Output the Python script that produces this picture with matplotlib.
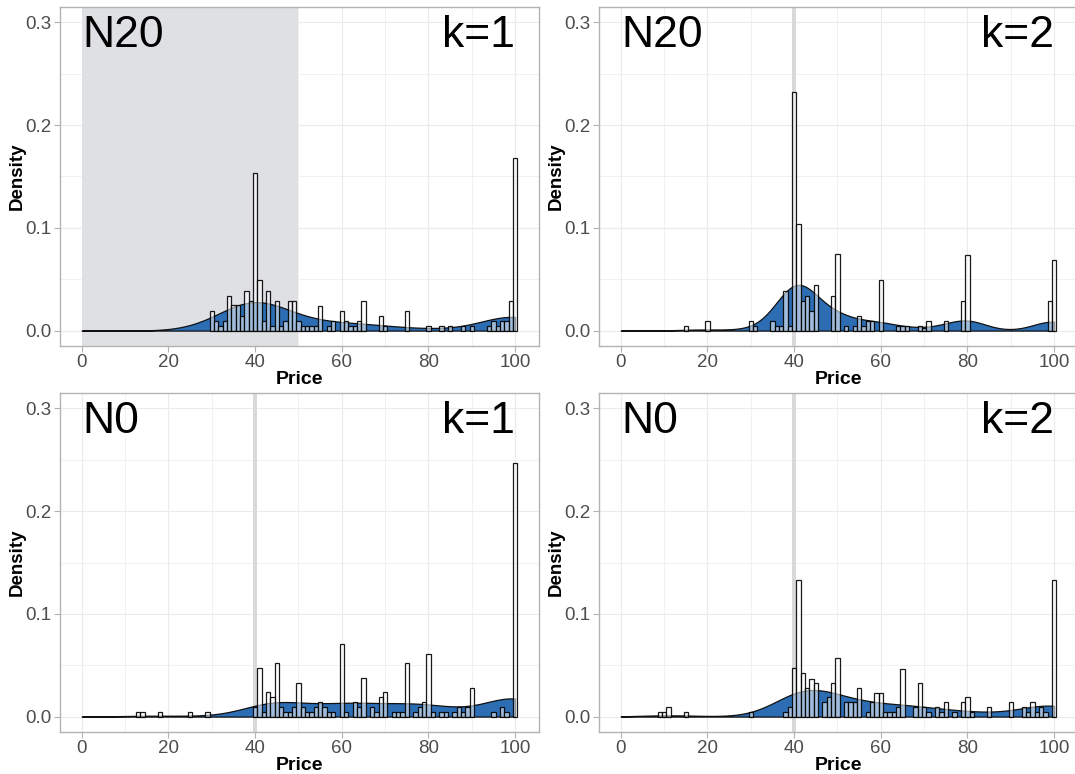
import numpy as np
import matplotlib
matplotlib.use("Agg")
import matplotlib.pyplot as plt

plt.rcParams['font.family'] = ['Liberation Sans', 'DejaVu Sans']

# Paneles: etiqueta de tratamiento y k
panel_names = ['N20', 'N20', 'N0', 'N0']
panel_k = ['k=1', 'k=2', 'k=1', 'k=2']

# Histograma (precio entero -> densidad)
p1_price = [30, 31, 32, 33, 34, 35, 36, 37, 38, 39, 40, 41, 42, 43, 44, 45, 46, 47, 48, 49,
            50, 51, 52, 53, 54, 55, 57, 58, 60, 61, 62, 63, 64, 65, 69, 70, 75, 80, 83, 85,
            88, 90, 94, 95, 96, 97, 98, 99, 100]
p1_dens = [.019, .009, .004, .009, .034, .025, .025, .014, .039, .029, .153, .049, .009, .039,
           .004, .029, .004, .009, .029, .029, .009, .004, .004, .004, .004, .024, .004, .009,
           .019, .009, .004, .004, .009, .029, .014, .004, .019, .004, .004, .004, .004, .004,
           .004, .009, .004, .009, .009, .029, .168]

p2_price = [15, 20, 30, 31, 35, 36, 37, 38, 39, 40, 41, 42, 43, 44, 45, 49, 50, 52, 54, 55,
            56, 57, 58, 60, 64, 65, 66, 69, 70, 71, 75, 79, 80, 99, 100]
p2_dens = [.004, .009, .009, .004, .009, .004, .004, .039, .004, .232, .104, .029, .034, .019,
           .044, .034, .075, .004, .004, .014, .004, .009, .009, .049, .004, .004, .004, .004,
           .003, .009, .009, .029, .074, .029, .069]

p3_price = [13, 14, 18, 25, 29, 40, 41, 42, 43, 44, 45, 46, 47, 48, 49, 50, 51, 52, 53, 54,
            55, 56, 57, 58, 60, 61, 63, 64, 65, 67, 68, 69, 70, 72, 73, 74, 75, 77, 78, 79,
            80, 81, 83, 84, 86, 87, 88, 89, 90, 95, 97, 98, 100]
p3_dens = [.004, .004, .004, .004, .004, .009, .047, .004, .024, .019, .052, .009, .004, .004,
           .009, .033, .009, .004, .004, .009, .014, .009, .004, .004, .071, .004, .014, .009,
           .038, .009, .004, .019, .024, .004, .004, .004, .052, .004, .009, .014, .061, .004,
           .004, .004, .004, .009, .004, .009, .028, .004, .009, .004, .247]

p4_price = [9, 10, 11, 15, 30, 38, 39, 40, 41, 42, 43, 44, 45, 47, 48, 49, 50, 52, 53, 54,
            55, 57, 58, 59, 60, 61, 62, 63, 64, 65, 68, 69, 70, 71, 73, 74, 75, 77, 79, 80,
            81, 85, 90, 93, 94, 95, 96, 97, 98, 100]
p4_dens = [.004, .004, .009, .004, .004, .004, .009, .047, .133, .042, .028, .037, .033, .014,
           .019, .033, .057, .014, .014, .014, .028, .004, .014, .023, .023, .004, .004, .004,
           .009, .046, .009, .033, .009, .004, .009, .004, .014, .004, .014, .019, .004, .009,
           .014, .009, .004, .014, .004, .009, .004, .133]

prices = [p1_price, p2_price, p3_price, p4_price]
densities = [p1_dens, p2_dens, p3_dens, p4_dens]
bandwidths = [7.0, 4.5, 6.5, 6.5]

x_ticks = [0, 20, 40, 60, 80, 100]
y_ticks = [0.0, 0.1, 0.2, 0.3]

blue = '#2D6DB4'
W, H = 1075, 774
boxes = [(60, 7, 479, 339), (599, 7, 479, 339), (60, 393, 479, 339), (599, 393, 479, 339)]

fig = plt.figure(figsize=(W / 100, H / 100), dpi=100)


def kde(grid, pts, w, bw):
    pts = np.asarray(pts, float)
    w = np.asarray(w, float)
    w = w / w.sum()
    z = (grid[:, None] - pts[None, :]) / bw
    return (np.exp(-0.5 * z ** 2) * w[None, :]).sum(axis=1) / (bw * np.sqrt(2 * np.pi))


grid = np.linspace(0, 100, 600)

for i, (l, t, w, h) in enumerate(boxes):
    ax = fig.add_axes([l / W, 1 - (t + h) / H, w / W, h / H])
    ax.set_xlim(-5.025, 105.525)
    ax.set_ylim(-0.015, 0.315)

    # rejilla
    for xv in range(0, 101, 10):
        ax.axvline(xv, color='#EBEBEB', lw=0.8 if xv % 20 == 0 else 0.5, zorder=0)
    for yv in np.arange(0, 0.301, 0.05):
        ax.axhline(yv, color='#EBEBEB', lw=0.8 if round(yv * 100) % 10 == 0 else 0.5, zorder=0)

    # zona sombreada
    if i == 0:
        ax.axvspan(0, 50, color='#DFE0E3', zorder=0.5, lw=0)
    else:
        ax.axvspan(39.6, 40.4, color='#D9D9D9', zorder=0.5, lw=0)

    dens_curve = kde(grid, prices[i], densities[i], bandwidths[i])
    ax.fill_between(grid, dens_curve, 0, facecolor=blue, edgecolor='#111111', lw=0.9, zorder=2)
    ax.bar(prices[i], densities[i], width=1, facecolor=(1, 1, 1, 0.55),
           edgecolor=(0, 0, 0, 0.9), linewidth=0.9, zorder=3)

    ax.text(0.2, 0.307, panel_names[i], fontsize=32, ha='left', va='top', zorder=5)
    ax.text(100, 0.307, panel_k[i], fontsize=32, ha='right', va='top', zorder=5)

    ax.set_xticks(x_ticks)
    ax.set_yticks(y_ticks)
    ax.set_yticklabels([f'{v:.1f}' for v in y_ticks])
    ax.tick_params(axis='both', colors='#B3B3B3', labelcolor='#4D4D4D', labelsize=13.5,
                   length=4, width=0.8, pad=2)
    for s in ax.spines.values():
        s.set_color('#B3B3B3')
        s.set_linewidth(1)
    ax.set_xlabel('Price', fontsize=14, fontweight='bold', labelpad=0)
    ax.set_ylabel('Density', fontsize=13.5, fontweight='bold', labelpad=0)

fig.savefig('out.png', dpi=100)
